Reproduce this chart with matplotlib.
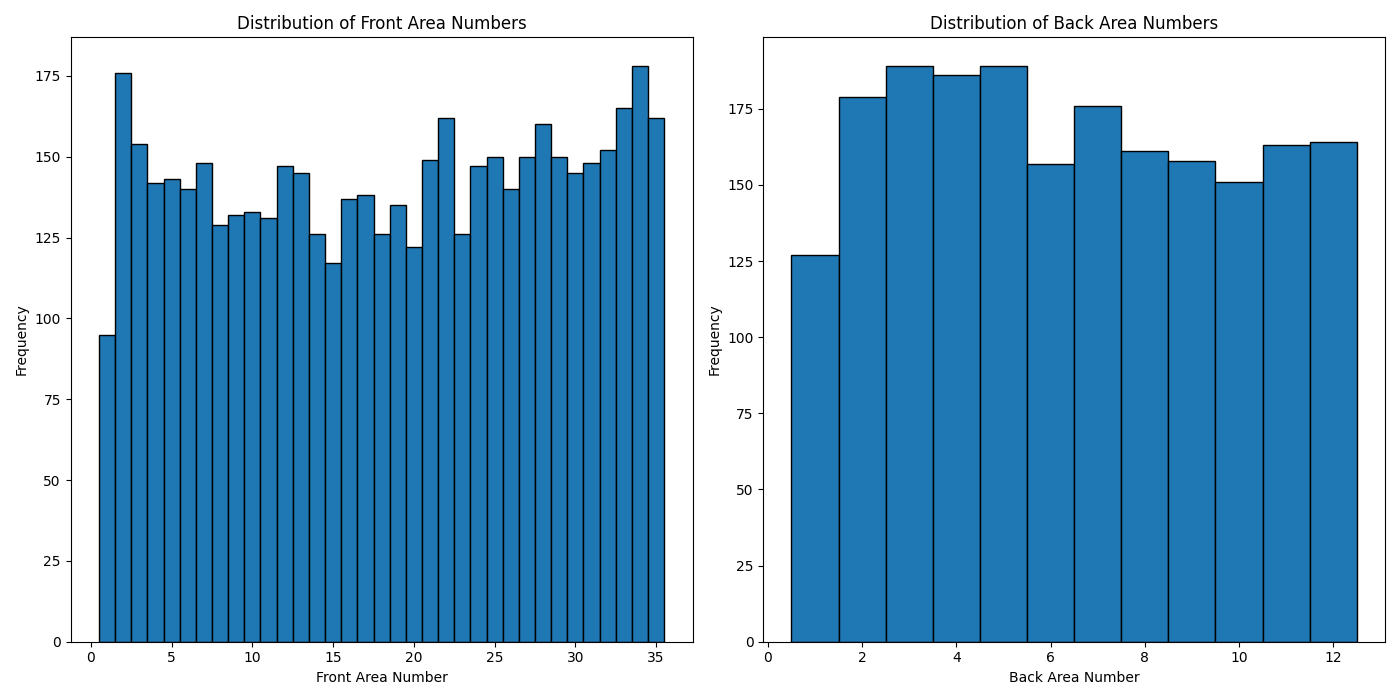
import matplotlib
matplotlib.use("Agg")
import matplotlib.pyplot as plt
import numpy as np

# counts
front_numbers = list(range(1, 36))
front_counts = [95, 176, 154, 142, 143, 140, 148, 129, 132, 133,
                131, 147, 145, 126, 117, 137, 138, 126, 135, 122,
                149, 162, 126, 147, 150, 140, 150, 160, 150, 145,
                148, 152, 165, 178, 162]

back_numbers = list(range(1, 13))
back_counts = [127, 179, 189, 186, 189, 157, 176, 161, 158, 151, 163, 164]

fig, (ax1, ax2) = plt.subplots(1, 2, figsize=(14, 7), dpi=100)

ax1.hist(front_numbers, bins=np.arange(0.5, 36.5, 1), weights=front_counts,
         edgecolor='black')
ax1.set_title('Distribution of Front Area Numbers')
ax1.set_xlabel('Front Area Number')
ax1.set_ylabel('Frequency')

ax2.hist(back_numbers, bins=np.arange(0.5, 13.5, 1), weights=back_counts,
         edgecolor='black')
ax2.set_title('Distribution of Back Area Numbers')
ax2.set_xlabel('Back Area Number')
ax2.set_ylabel('Frequency')

plt.tight_layout()
plt.savefig('out.png')
